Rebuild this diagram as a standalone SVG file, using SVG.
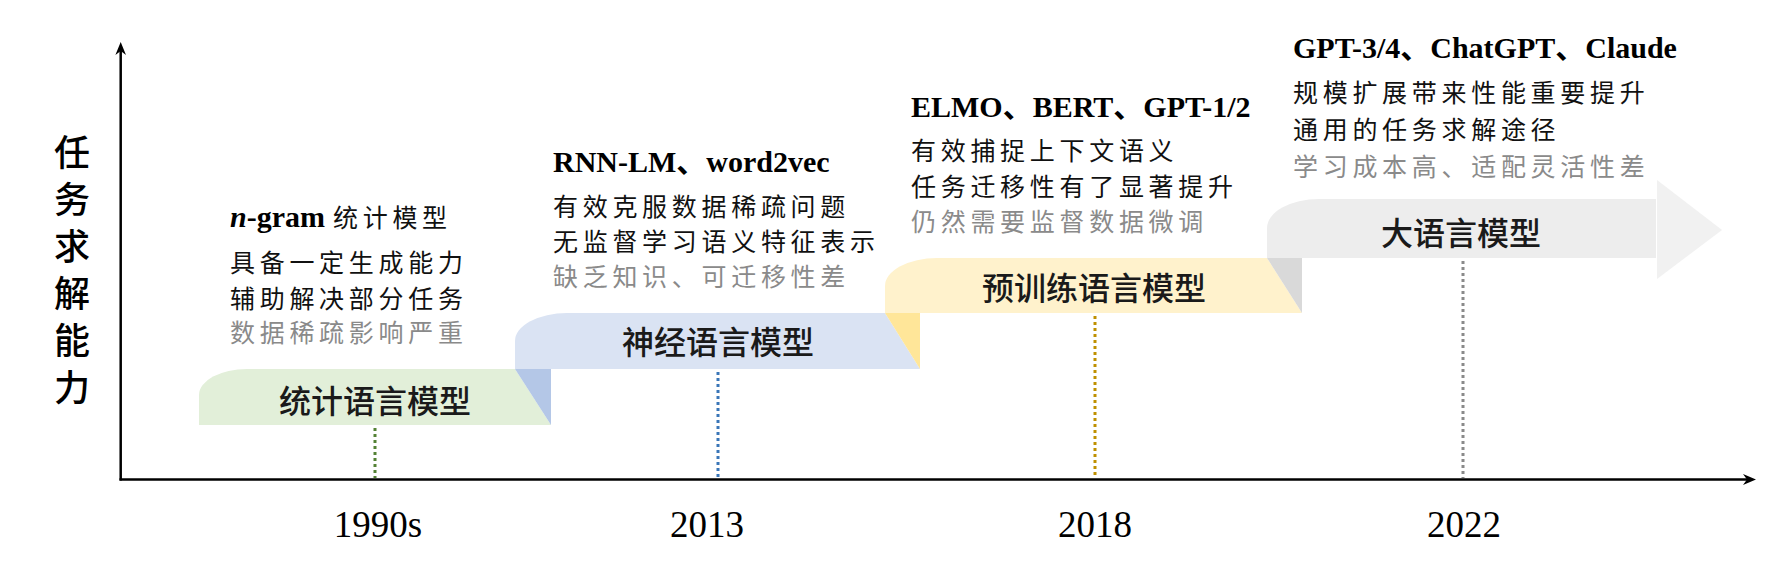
<svg xmlns="http://www.w3.org/2000/svg" width="1788" height="566" viewBox="0 0 1788 566">
<style>
.head{font-family:"Liberation Serif","Noto Sans CJK SC",serif;font-weight:bold;font-size:30px;fill:#000}
.desc{font-family:"Noto Sans CJK SC",sans-serif;font-size:25px;letter-spacing:4.7px;fill:#111}
.gray{fill:#8a8a8a}
.lbl{font-family:"Noto Sans CJK SC",sans-serif;font-size:32px;font-weight:500;fill:#1a1a1a;text-anchor:middle}
.year{font-family:"Liberation Serif",serif;font-size:37px;fill:#000;text-anchor:middle}
.ylab{font-family:"Noto Sans CJK SC",sans-serif;font-size:36px;font-weight:500;fill:#000;text-anchor:middle}
.axis{stroke:#000;stroke-width:2.5;fill:none}
.dot{stroke-width:3;stroke-dasharray:3 3;fill:none}
</style>
<rect width="1788" height="566" fill="#fff"/>

<g id="axes">
  <line class="axis" x1="120.7" y1="480.5" x2="120.7" y2="47"/>
  <path d="M120.7,42 L126,55 L120.7,51 L115.4,55 Z" fill="#000"/>
  <line class="axis" x1="119.5" y1="479.5" x2="1750" y2="479.5"/>
  <path d="M1756,479.5 L1743,474 L1747,479.5 L1743,485 Z" fill="#000"/>
  <text class="ylab" x="72"><tspan x="72" y="166">任</tspan><tspan x="72" y="213">务</tspan><tspan x="72" y="260">求</tspan><tspan x="72" y="307">解</tspan><tspan x="72" y="354">能</tspan><tspan x="72" y="401">力</tspan></text>
</g>

<g id="connectors">
  <line class="dot" stroke="#548235" x1="375" y1="428" x2="375" y2="478"/>
  <line class="dot" stroke="#3a76b8" x1="718" y1="372" x2="718" y2="478"/>
  <line class="dot" stroke="#bf9000" x1="1095" y1="316" x2="1095" y2="478"/>
  <line class="dot" stroke="#8a8a8a" x1="1463" y1="261" x2="1463" y2="478"/>
</g>

<g id="stage-statistical">
  <path d="M199,425 V395 A48,26 0 0 1 247,369 H515 L551,425 Z" fill="#e2efd9"/>
  <text class="lbl" x="375" y="413">统计语言模型</text>
  <text class="head" x="230" y="227"><tspan font-style="italic">n</tspan>-gram <tspan class="desc" x="333" font-weight="normal">统计模型</tspan></text>
  <text class="desc" x="230" y="272">具备一定生成能力</text>
  <text class="desc" x="230" y="308">辅助解决部分任务</text>
  <text class="desc gray" x="230" y="342">数据稀疏影响严重</text>
  <text class="year" x="378" y="537">1990s</text>
</g>

<g id="stage-neural">
  <path d="M515,369 H551 V425 Z" fill="#b4c7e7"/>
  <path d="M515,369 V341 A52,28 0 0 1 567,313 H885 L920,369 Z" fill="#dae3f3"/>
  <text class="lbl" x="718" y="354">神经语言模型</text>
  <text class="head" x="553" y="172">RNN-LM、word2vec</text>
  <text class="desc" x="553" y="216">有效克服数据稀疏问题</text>
  <text class="desc" x="553" y="251">无监督学习语义特征表示</text>
  <text class="desc gray" x="553" y="286">缺乏知识、可迁移性差</text>
  <text class="year" x="707" y="537">2013</text>
</g>

<g id="stage-pretrained">
  <path d="M885,313 H920 V369 Z" fill="#ffe699"/>
  <path d="M885,313 V286 A52,28 0 0 1 937,258 H1267 L1302,313 Z" fill="#fff2cc"/>
  <text class="lbl" x="1094" y="300">预训练语言模型</text>
  <text class="head" x="911" y="117">ELMO、BERT、GPT-1/2</text>
  <text class="desc" x="911" y="160">有效捕捉上下文语义</text>
  <text class="desc" x="911" y="196">任务迁移性有了显著提升</text>
  <text class="desc gray" x="911" y="231">仍然需要监督数据微调</text>
  <text class="year" x="1095" y="537">2018</text>
</g>

<g id="stage-llm">
  <path d="M1267,258 H1302 V313 Z" fill="#d9d9d9"/>
  <path d="M1267,258 V228 A52,29 0 0 1 1319,199 H1656 V258 Z" fill="#ededed"/>
  <path d="M1657,180 L1722,230 L1657,279 Z" fill="#f1f1f1"/>
  <text class="lbl" x="1461" y="245">大语言模型</text>
  <text class="head" x="1293" y="58">GPT-3/4、ChatGPT、Claude</text>
  <text class="desc" x="1293" y="102">规模扩展带来性能重要提升</text>
  <text class="desc" x="1293" y="139">通用的任务求解途径</text>
  <text class="desc gray" x="1293" y="176">学习成本高、适配灵活性差</text>
  <text class="year" x="1464" y="537">2022</text>
</g>
</svg>
